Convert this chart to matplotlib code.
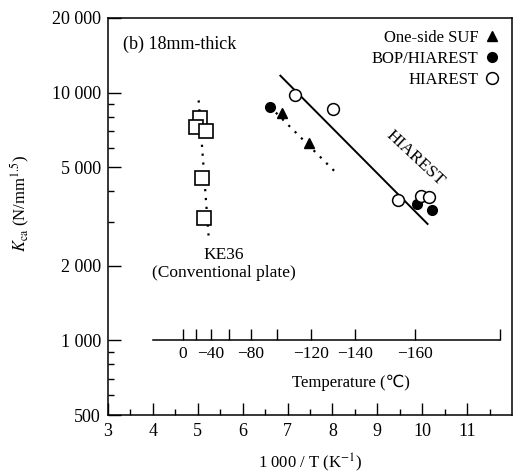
import numpy as np
import matplotlib
matplotlib.use("Agg")
from matplotlib import pyplot as plt
from matplotlib.ticker import FixedLocator, FuncFormatter, NullFormatter

plt.rcParams['font.family'] = ['Liberation Serif', 'DejaVu Serif']
plt.rcParams['mathtext.fontset'] = 'stix'

# dados (x = 1000/T, y = Kca)
ke36_x = [5.04, 4.96, 5.18, 5.09, 5.14]
ke36_y = [7890, 7240, 7010, 4510, 3130]
ke36_trend_x = [5.02, 5.24]
ke36_trend_y = [9300, 2650]

suf_x = [6.88, 7.47]
suf_y = [8260, 6260]

bop_x = [6.60, 9.88, 10.21]
bop_y = [8740, 3540, 3350]
bop_trend_x = [6.60, 8.08]
bop_trend_y = [8800, 4750]

hiarest_x = [7.16, 8.02, 9.45, 9.97, 10.16]
hiarest_y = [9800, 8580, 3680, 3820, 3790]
hiarest_fit_x = [6.84, 10.12]
hiarest_fit_y = [11700, 2950]

y_ticks = [500, 1000, 2000, 5000, 10000, 20000]
y_tick_labels = ['500', '1 000', '2 000', '5 000', '10 000', '20 000']
y_minor = [600, 700, 800, 900, 3000, 4000, 6000, 7000, 8000, 9000]
x_ticks = [3, 4, 5, 6, 7, 8, 9, 10, 11]
x_minor = [3.5, 4.5, 5.5, 6.5, 7.5, 8.5, 9.5, 10.5, 11.5]

temp_ticks = [0, -20, -40, -60, -80, -100, -120, -140, -160, -180]
temp_labeled = [0, -40, -80, -120, -140, -160]
temp_offset = 1.0  # a escala de temperatura do original esta deslocada


def to_temp(x):
    x = np.asarray(x, dtype=float)
    return 1000.0 / np.clip(x - temp_offset, 1e-3, None) - 273.15


def from_temp(t):
    t = np.asarray(t, dtype=float)
    return 1000.0 / np.clip(t + 273.15, 1e-3, None) + temp_offset


def fmt_temp(t, pos):
    v = int(round(t))
    if v not in temp_labeled:
        return ''
    return str(v).replace('-', '\u2212')


fig = plt.figure(figsize=(5.21, 4.73), dpi=100)
ax = fig.add_axes([0.2073, 0.1226, 0.7754, 0.8394])

ax.plot(ke36_trend_x, ke36_trend_y, color='black', lw=1.6, ls=(0, (1, 3)))
ax.plot(bop_trend_x, bop_trend_y, color='black', lw=1.6, ls=(0, (1, 3)))
ax.plot(hiarest_fit_x, hiarest_fit_y, color='black', lw=1.4)

ax.plot(ke36_x, ke36_y, ls='none', marker='s', ms=9.5, mfc='white', mec='black', mew=1.2)
ax.plot(suf_x, suf_y, ls='none', marker='^', ms=7.5, color='black', label='One-side SUF')
ax.plot(bop_x, bop_y, ls='none', marker='o', ms=7, color='black', label='BOP/HIAREST')
ax.plot(hiarest_x, hiarest_y, ls='none', marker='o', ms=8.5, mfc='white', mec='black',
        mew=1.1, label='HIAREST')

ax.set_yscale('log')
ax.set_xlim(3, 12)
ax.set_ylim(500, 20000)
ax.set_yticks(y_ticks)
ax.set_yticklabels(y_tick_labels)
ax.yaxis.set_minor_locator(FixedLocator(y_minor))
ax.yaxis.set_minor_formatter(NullFormatter())
ax.set_xticks(x_ticks)
ax.xaxis.set_minor_locator(FixedLocator(x_minor))
ax.tick_params(which='both', direction='in', labelsize=13, width=1)
ax.tick_params(which='major', length=9)
ax.tick_params(which='minor', length=4)
ax.tick_params(axis='x', pad=6)
ax.tick_params(axis='y', pad=5)
for s in ax.spines.values():
    s.set_linewidth(1.1)

ax.set_xlabel('1 000 / T (K$^{\u22121}$)', fontsize=12, labelpad=8)
fig.text(0.040, 0.57, r'$K_{\rm ca}$ (N/mm$^{1.5}$)', rotation=90, fontsize=12,
         ha='center', va='center')

# eixo secundario de temperatura em y = 1000
frac = np.log10(1000 / 500) / np.log10(20000 / 500)
sec = ax.secondary_xaxis(frac, functions=(to_temp, from_temp))
sec.xaxis.set_major_locator(FixedLocator(temp_ticks))
sec.xaxis.set_major_formatter(FuncFormatter(fmt_temp))
sec.tick_params(direction='in', length=8, width=1, labelsize=12.5, pad=4)
sec.spines['bottom'].set_bounds(60, -180)
sec.spines['bottom'].set_linewidth(1.1)

ax.text(8.42, 672, 'Temperature (\u2103)', fontsize=12, ha='center', va='center',
        family=['Liberation Serif', 'DejaVu Sans'])
ax.text(3.33, 15700, '(b) 18mm-thick', fontsize=13, ha='left', va='center')
ax.text(5.58, 2217, 'KE36', fontsize=12.5, ha='center', va='center')
ax.text(5.58, 1876, '(Conventional plate)', fontsize=12.5, ha='center', va='center')
ax.text(9.84, 5430, 'HIAREST', fontsize=12.5, ha='center', va='center', rotation=-43)

ax.legend(loc='upper right', frameon=False, markerfirst=False, fontsize=12,
          handlelength=1.0, handletextpad=0.3, labelspacing=0.3, borderaxespad=0.3)

plt.savefig('out.png', dpi=100)
